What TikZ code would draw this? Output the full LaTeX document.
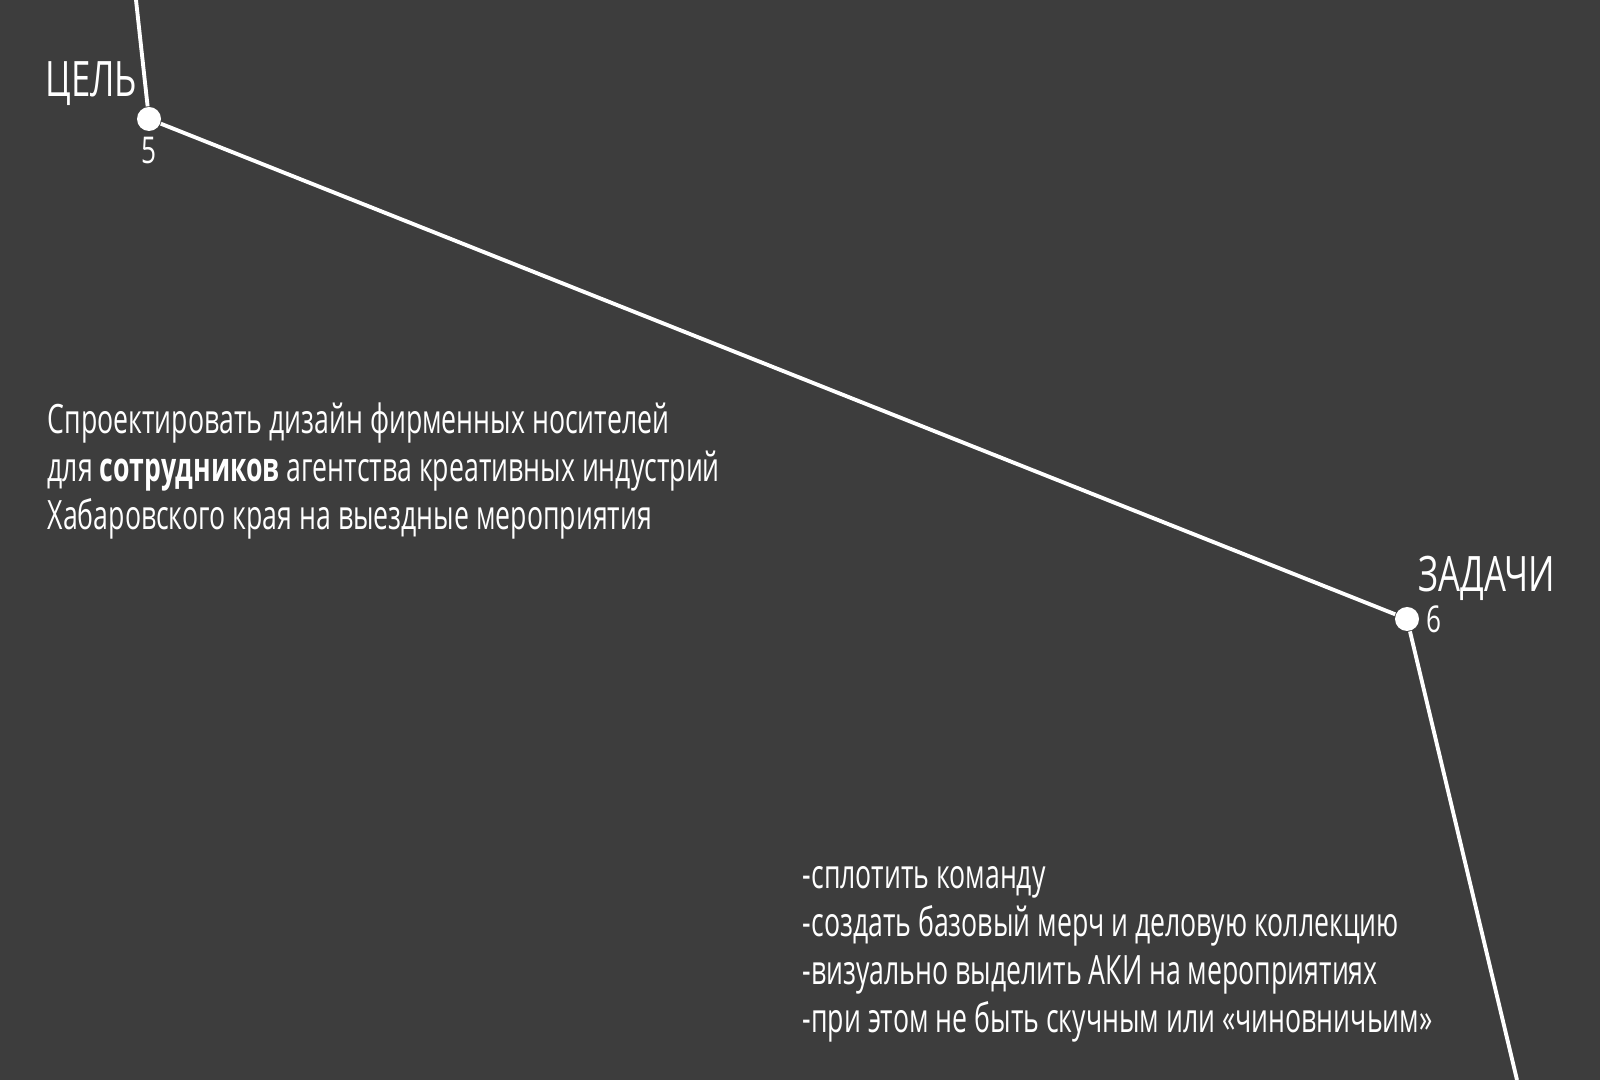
\documentclass[tikz,border=0pt]{standalone}
\usepackage{fontspec}
\setmainfont{Open Sans}[FakeStretch=0.66]
\newfontfamily\headfont{Open Sans}[FakeStretch=0.71]
\usepackage{tikz}
\usetikzlibrary{positioning}

\definecolor{slate}{HTML}{3D3D3D}

\begin{document}
\begin{tikzpicture}[
    line/.style={draw=white,line width=1.1pt},
    stop/.style={circle,fill=white,inner sep=0pt,minimum size=0.24cm},
    heading/.style={text=white,inner sep=0pt,font=\headfont\fontsize{13.9}{16}\selectfont},
    num/.style={text=white,inner sep=0pt,font=\headfont\fontsize{10.5}{12}\selectfont},
    body/.style={text=white,inner sep=0pt,align=left,font=\fontsize{11.5}{13.7}\selectfont}
]

% background
\fill[slate] (0,0) rectangle (16,10.8);
\useasboundingbox (0,0) rectangle (16,10.8);

% define nodes

% stops
\coordinate (top) at (1.36,10.8);
\node[stop] (goal) at (1.49,9.61) {};
\node[stop] (tasks) at (14.07,4.61) {};
\coordinate (bottom) at (15.17,0);

% labels
\node[heading, anchor=base east] (goallbl) at (1.38,9.83) {ЦЕЛЬ};
\node[num, below=0.05cm of goal] (goalnum) {5};
\node[heading, anchor=base west] (taskslbl) at (14.18,4.88) {ЗАДАЧИ};
\node[num, right=0.06cm of tasks] (tasksnum) {6};

% texts
\node[body, anchor=base west] (goaltxt) at (0.47,5.50)
  {Спроектировать дизайн фирменных носителей\\
   для \textbf{сотрудников} агентства креативных индустрий\\
   Хабаровского края на выездные мероприятия};
\node[body, anchor=base west] (taskstxt) at (8.02,0.47)
  {-сплотить команду\\
   -создать базовый мерч и деловую коллекцию\\
   -визуально выделить АКИ на мероприятиях\\
   -при этом не быть скучным или «чиновничьим»};

% edges
\draw[line] (top) -- (goal) -- (tasks) -- (bottom);

\end{tikzpicture}
\end{document}
